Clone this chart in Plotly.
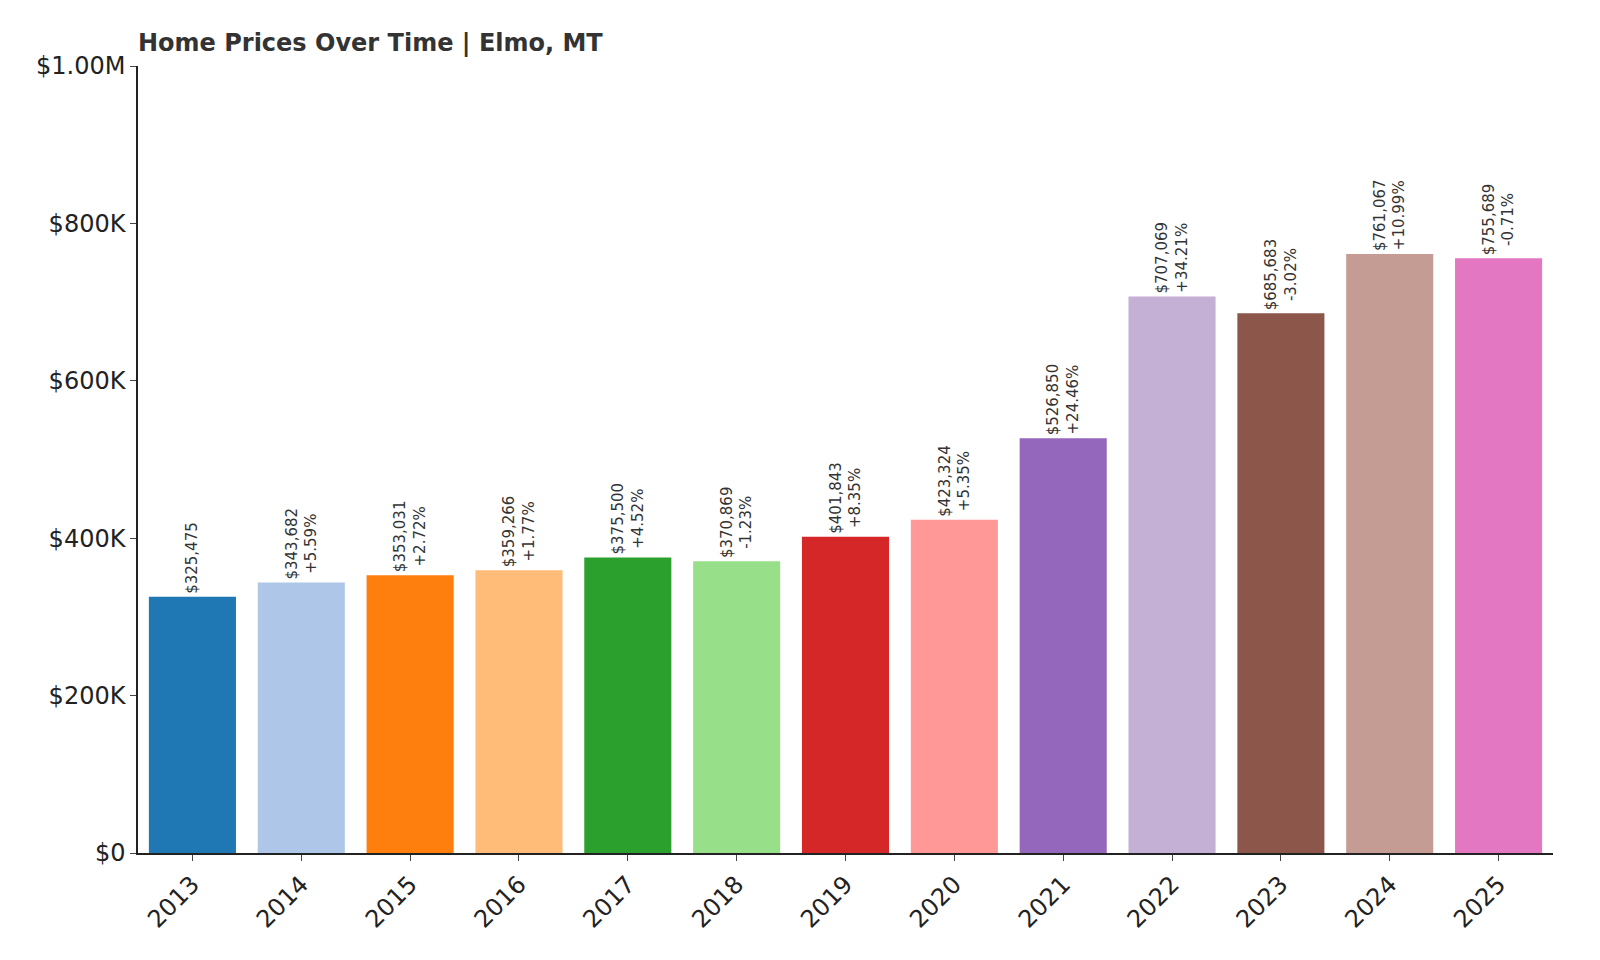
import plotly.graph_objects as go

years = ["2013","2014","2015","2016","2017","2018","2019","2020","2021","2022","2023","2024","2025"]
values = [325475,343682,353031,359266,375500,370869,401843,423324,526850,707069,685683,761067,755689]
changes = ["","+5.59%","+2.72%","+1.77%","+4.52%","-1.23%","+8.35%","+5.35%","+24.46%","+34.21%","-3.02%","+10.99%","-0.71%"]
colors = ["#1f77b4","#aec7e8","#ff7f0e","#ffbb78","#2ca02c","#98df8a","#d62728","#ff9896","#9467bd","#c5b0d5","#8c564b","#c49c94","#e377c2"]
tickvals = [0,200000,400000,600000,800000,1000000]
ticktext = ["$0","$200K","$400K","$600K","$800K","$1.00M"]

texts = [f"${v:,}" + (f"<br>{c}" if c else "") for v, c in zip(values, changes)]

fig = go.Figure(go.Bar(
    x=years, y=values, marker=dict(color=colors, line=dict(width=0)),
    text=texts, textposition="outside", textangle=-90,
    textfont=dict(family="DejaVu Sans", size=15, color="#333"),
    cliponaxis=False, width=0.8,
))
fig.update_layout(
    width=1600, height=960, paper_bgcolor="white", plot_bgcolor="white",
    margin=dict(l=130, r=55, t=58, b=115),
    font=dict(family="DejaVu Sans", color="#222"),
    title=dict(text="<b>Home Prices Over Time | Elmo, MT</b>", x=130/1600, xanchor="left",
               y=1-35/960, yanchor="middle", font=dict(size=24, color="#333")),
    showlegend=False, uniformtext=dict(mode=False),
)
fig.update_xaxes(showline=True, linecolor="#222", linewidth=1.5, ticks="outside", ticklen=6,
                 tickangle=-45, tickfont=dict(size=24), showgrid=False)
fig.update_yaxes(range=[0, 1000000], tickvals=tickvals, ticktext=ticktext, showline=True,
                 linecolor="#222", linewidth=1.5, ticks="outside", ticklen=6,
                 tickfont=dict(size=24), showgrid=False, zeroline=False)
fig.write_html("out.html")
